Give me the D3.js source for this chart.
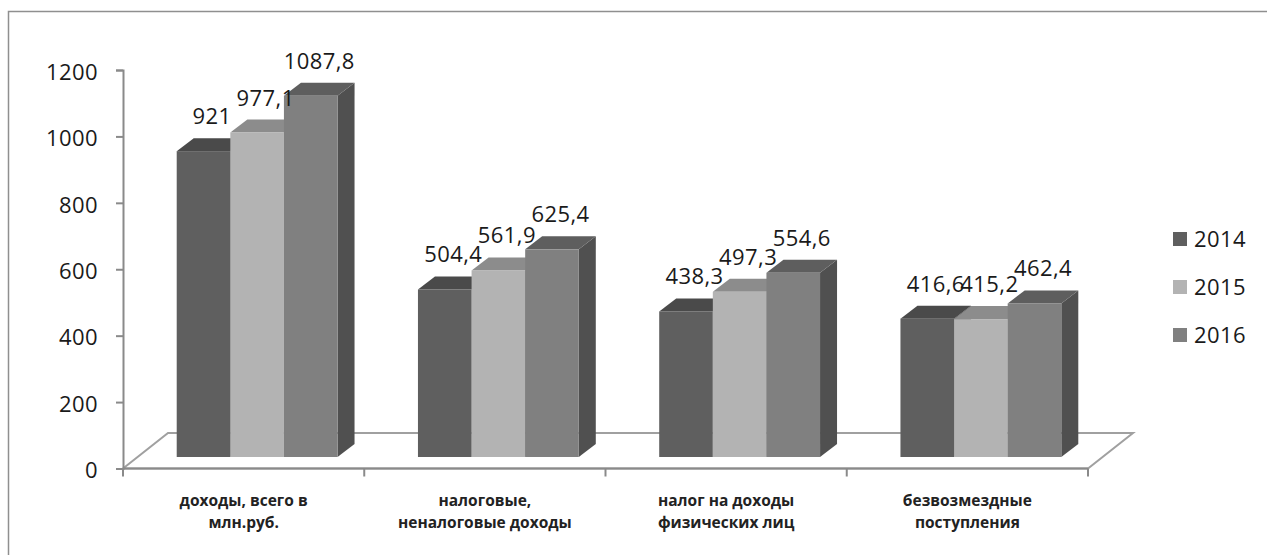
<!DOCTYPE html>
<html>
<head>
<meta charset="utf-8">
<script src="https://cdn.jsdelivr.net/npm/d3@7"></script>
<style>
  body { margin: 0; background: #fff; }
  svg { display: block; }
  .num { font-family: "Open Sans", sans-serif; font-size: 22px; fill: #1a1a1a; letter-spacing: 0.4px; }
  .cat { font-family: "Open Sans", sans-serif; font-size: 15.5px; font-weight: bold; fill: #222; }
</style>
</head>
<body>
<svg id="chart" width="1267" height="555"></svg>
<script>
const categories = ['доходы, всего в\nмлн.руб.', 'налоговые,\nненалоговые доходы', 'налог на доходы\nфизических лиц', 'безвозмездные\nпоступления'];
const years = ['2014', '2015', '2016'];
const values2014 = [921, 504.4, 438.3, 416.6];
const values2015 = [977.1, 561.9, 497.3, 415.2];
const values2016 = [1087.8, 625.4, 554.6, 462.4];
const yTicks = [0, 200, 400, 600, 800, 1000, 1200];

const seriesValues = [values2014, values2015, values2016];
const frontColors = ['#5f5f5f', '#b3b3b3', '#808080'];
const topColors = ['#4a4a4a', '#8c8c8c', '#5e5e5e'];
const sideColors = ['#404040', '#7c7c7c', '#505050'];

const svg = d3.select('#chart');

// frame
svg.append('rect')
  .attr('x', 8.5).attr('y', 11.5)
  .attr('width', 1400).attr('height', 700)
  .attr('fill', 'none').attr('stroke', '#8f8f8f').attr('stroke-width', 1.5);

const x0 = d3.scaleBand().domain(categories).range([123, 1088]);
const x1 = d3.scaleBand().domain(years).range([0, x0.bandwidth()]).paddingOuter(0.75);
const y = d3.scaleLinear().domain([0, 1200]).range([468.5, 70]);

// floor depth and bar depth (oblique projection)
const floorDx = 45, floorDy = -35.5;
const barShiftX = 13.5, barShiftY = -11.5;
const barDx = 17, barDy = -13;

const [xa, xb] = x0.range();
const y0 = y(0);

svg.append('path')
  .attr('d', `M${xa},${y0} L${xa + floorDx},${y0 + floorDy} L${xb + floorDx},${y0 + floorDy} L${xb},${y0} Z`)
  .attr('fill', '#fff')
  .attr('stroke', '#a0a0a0')
  .attr('stroke-width', 2);

// y axis
const yAxis = svg.append('g')
  .attr('transform', `translate(${xa},0)`)
  .call(d3.axisLeft(y).tickValues(yTicks).tickSize(7).tickPadding(18).tickFormat(d3.format('d')));
yAxis.select('.domain').attr('stroke', '#8a8a8a').attr('stroke-width', 2);
yAxis.selectAll('.tick line').attr('stroke', '#8a8a8a').attr('stroke-width', 2);
yAxis.selectAll('.tick text').attr('class', 'num').attr('dy', '0.42em');

// x axis line with boundary ticks
svg.append('line')
  .attr('x1', xa).attr('x2', xb).attr('y1', y0).attr('y2', y0)
  .attr('stroke', '#8a8a8a').attr('stroke-width', 2);
const boundaries = categories.map(c => x0(c)).concat([xb]);
svg.selectAll('.xtick').data(boundaries).enter()
  .append('line')
  .attr('class', 'xtick')
  .attr('x1', d => d).attr('x2', d => d)
  .attr('y1', y0).attr('y2', y0 + 8)
  .attr('stroke', '#8a8a8a').attr('stroke-width', 2);

// category labels, one text per line
categories.forEach(c => {
  c.split('\n').forEach((line, i) => {
    svg.append('text')
      .attr('class', 'cat')
      .attr('text-anchor', 'middle')
      .attr('x', x0(c) + x0.bandwidth() / 2)
      .attr('y', 506 + i * 22)
      .text(line);
  });
});

// bars
const fmt = v => String(v).replace('.', ',');
const bars = [];
categories.forEach((c, ci) => {
  years.forEach((yr, si) => {
    bars.push({c, ci, si, v: seriesValues[si][ci]});
  });
});

const barG = svg.append('g');
bars.forEach(b => {
  const left = x0(b.c) + x1(years[b.si]) + barShiftX;
  const right = left + x1.bandwidth();
  const top = y(b.v) + barShiftY;
  const bottom = y0 + barShiftY;
  const g = barG.append('g');
  g.append('path')
    .attr('d', `M${right},${bottom} L${right + barDx},${bottom + barDy} L${right + barDx},${top + barDy} L${right},${top} Z`)
    .attr('fill', sideColors[b.si]);
  g.append('path')
    .attr('d', `M${left},${top} L${left + barDx},${top + barDy} L${right + barDx},${top + barDy} L${right},${top} Z`)
    .attr('fill', topColors[b.si]);
  g.append('rect')
    .attr('x', left).attr('y', top)
    .attr('width', x1.bandwidth()).attr('height', bottom - top)
    .attr('fill', frontColors[b.si]);
});

// value labels
svg.append('g').selectAll('text').data(bars).enter()
  .append('text')
  .attr('class', 'num')
  .attr('text-anchor', 'middle')
  .attr('x', b => x0(b.c) + x1(years[b.si]) + barShiftX + x1.bandwidth() / 2 + barDx / 2)
  .attr('y', b => y(b.v) + barShiftY + barDy - 14)
  .text(b => fmt(b.v));

// legend
const legend = svg.append('g').attr('transform', 'translate(1173,232)');
years.forEach((yr, i) => {
  const row = legend.append('g').attr('transform', `translate(0,${i * 48})`);
  row.append('rect').attr('width', 14).attr('height', 14).attr('fill', frontColors[i]);
  row.append('text').attr('class', 'num').attr('x', 21).attr('y', 15).text(yr);
});
</script>
</body>
</html>
